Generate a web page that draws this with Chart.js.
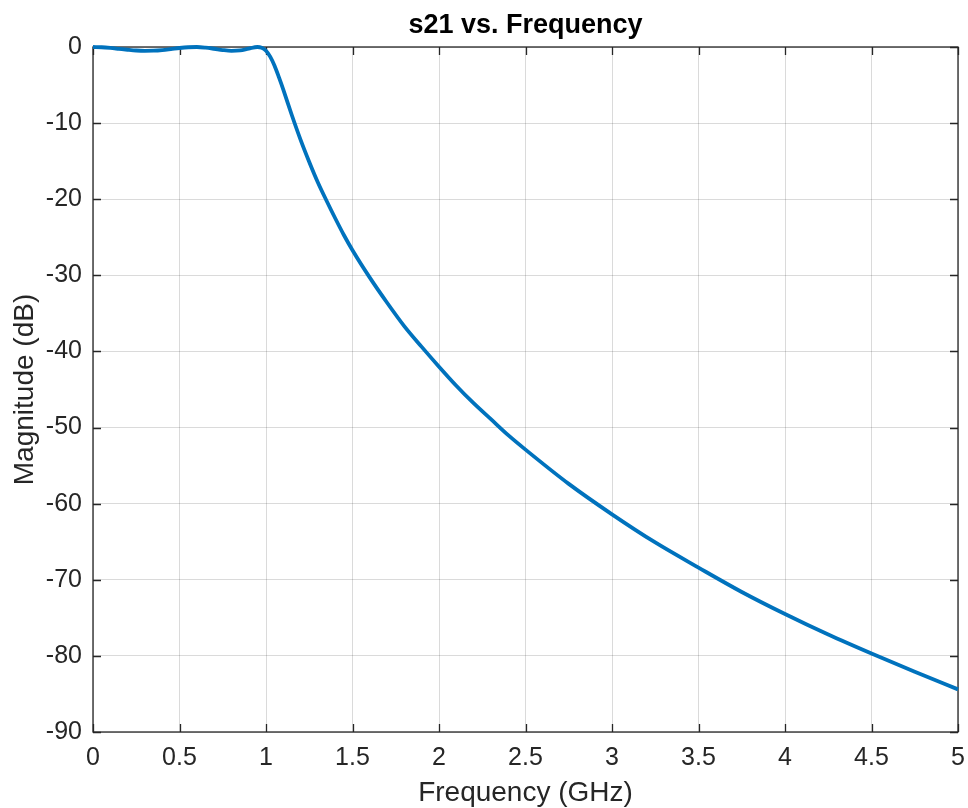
<!DOCTYPE html>
<html>
<head>
<meta charset="utf-8">
<title>s21 vs. Frequency</title>
<script src="https://cdn.jsdelivr.net/npm/chart.js@4"></script>
<style>
  html, body { margin: 0; padding: 0; background: #fff; }
  #wrap { width: 968px; height: 808px; }
</style>
</head>
<body>
<div id="wrap"><canvas id="chart" width="968" height="808"></canvas></div>
<script>
// values
const freqGHz = [0, 0.05, 0.1, 0.15, 0.2, 0.25, 0.3, 0.35, 0.4, 0.45, 0.5, 0.55, 0.6, 0.65, 0.7, 0.75,
  0.8, 0.85, 0.9, 0.95, 0.975, 1.0, 1.025, 1.05, 1.075, 1.1, 1.15, 1.2, 1.25, 1.3, 1.35, 1.4, 1.45,
  1.5, 1.6, 1.7, 1.8, 1.9, 2.0, 2.1, 2.2, 2.3, 2.4, 2.5, 2.75, 3.0, 3.25, 3.5, 3.75, 4.0, 4.25,
  4.5, 4.75, 5.0];
const s21dB = [0, -0.03, -0.12, -0.24, -0.36, -0.46, -0.5, -0.48, -0.4, -0.27, -0.13, -0.03, 0, -0.08,
  -0.23, -0.4, -0.5, -0.44, -0.21, 0, -0.1, -0.5, -1.3, -2.5, -4.0, -5.6, -9.0, -12.2, -15.1, -17.8,
  -20.2, -22.5, -24.7, -26.7, -30.3, -33.6, -36.7, -39.4, -42.0, -44.5, -46.8, -48.9, -51.0, -52.9,
  -57.4, -61.4, -65.1, -68.4, -71.6, -74.5, -77.2, -79.7, -82.1, -84.4];

const xTicks = [0, 0.5, 1, 1.5, 2, 2.5, 3, 3.5, 4, 4.5, 5];
const xTickLabels = ['0', '0.5', '1', '1.5', '2', '2.5', '3', '3.5', '4', '4.5', '5'];
const yTicks = [-90, -80, -70, -60, -50, -40, -30, -20, -10, 0];
const yTickLabels = ['-90', '-80', '-70', '-60', '-50', '-40', '-30', '-20', '-10', '0'];

const FONT = '"Liberation Sans", Arial, Helvetica, sans-serif';
const AXIS_COLOR = '#262626';
const GRID_COLOR = 'rgba(38,38,38,0.17)';

// matlab style box with inward ticks on all four sides
const matlabBox = {
  id: 'matlabBox',
  beforeDatasetsDraw(chart) {
    const { ctx, chartArea: a, scales: { x, y } } = chart;
    const len = 8;
    ctx.save();
    ctx.strokeStyle = AXIS_COLOR;
    ctx.lineWidth = 1.3;
    ctx.beginPath();
    xTicks.forEach(v => {
      const px = Math.round(x.getPixelForValue(v)) + 0.5;
      ctx.moveTo(px, a.bottom); ctx.lineTo(px, a.bottom - len);
      ctx.moveTo(px, a.top); ctx.lineTo(px, a.top + len);
    });
    yTicks.forEach(v => {
      const py = Math.round(y.getPixelForValue(v)) + 0.5;
      ctx.moveTo(a.left, py); ctx.lineTo(a.left + len, py);
      ctx.moveTo(a.right, py); ctx.lineTo(a.right - len, py);
    });
    ctx.stroke();
    ctx.strokeRect(a.left, a.top, a.right - a.left, a.bottom - a.top);
    ctx.restore();
  }
};

const ctx = document.getElementById('chart').getContext('2d');
new Chart(ctx, {
  type: 'line',
  data: {
    datasets: [{
      data: freqGHz.map((f, i) => ({ x: f, y: s21dB[i] })),
      borderColor: '#0072BD',
      borderWidth: 3.8,
      pointRadius: 0,
      fill: false,
      cubicInterpolationMode: 'monotone',
      clip: false
    }]
  },
  options: {
    responsive: false,
    animation: false,
    events: [],
    layout: { padding: { left: 0, right: 10, top: 0, bottom: 0 } },
    plugins: {
      legend: { display: false },
      tooltip: { enabled: false },
      title: {
        display: true,
        text: 's21 vs. Frequency',
        fullSize: false,
        color: '#000',
        font: { family: FONT, size: 27, weight: 'bold', lineHeight: 1.2 },
        padding: { top: 9.4, bottom: 5.2 }
      }
    },
    scales: {
      x: {
        type: 'linear',
        min: 0,
        max: 5,
        afterBuildTicks: s => { s.ticks = xTicks.map(v => ({ value: v })); },
        afterFit: s => { s.height = 76; s.paddingLeft = 0; s.paddingRight = 0; },
        grid: { color: GRID_COLOR, lineWidth: 1, drawTicks: false },
        border: { display: false },
        ticks: {
          padding: 11,
          color: AXIS_COLOR,
          autoSkip: false,
          maxRotation: 0,
          font: { family: FONT, size: 25 },
          callback: (v, i) => xTickLabels[i]
        },
        title: {
          display: true,
          text: 'Frequency (GHz)',
          color: AXIS_COLOR,
          font: { family: FONT, size: 28, lineHeight: 1 },
          padding: { top: 0, bottom: 1 }
        }
      },
      y: {
        type: 'linear',
        min: -90,
        max: 0,
        afterBuildTicks: s => { s.ticks = yTicks.map(v => ({ value: v })); },
        afterFit: s => { s.width = 93; s.paddingTop = 0; s.paddingBottom = 0; },
        grid: { color: GRID_COLOR, lineWidth: 1, drawTicks: false },
        border: { display: false },
        ticks: {
          padding: 11,
          color: AXIS_COLOR,
          autoSkip: false,
          font: { family: FONT, size: 25 },
          callback: (v, i) => yTickLabels[i]
        },
        title: {
          display: true,
          text: 'Magnitude (dB)',
          color: AXIS_COLOR,
          font: { family: FONT, size: 28, lineHeight: 1.2 },
          padding: { top: 8, bottom: 0 }
        }
      }
    }
  },
  plugins: [matlabBox]
});
</script>
</body>
</html>
